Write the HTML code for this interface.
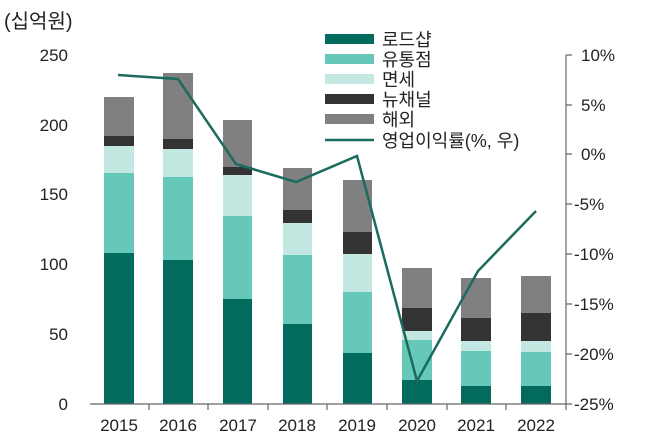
<!DOCTYPE html><html><head><meta charset="utf-8"><style>body{margin:0;background:#fff}svg text{font-family:"Liberation Sans","Noto Sans CJK KR",sans-serif;fill:#222}</style></head><body>
<svg width="663" height="442" xmlns="http://www.w3.org/2000/svg">
<text x="4" y="28" font-size="20">(십억원)</text>
<g font-size="17" text-anchor="end">
<text x="68" y="61">250</text><text x="68" y="131">200</text><text x="68" y="200">150</text><text x="68" y="270">100</text><text x="68" y="340">50</text><text x="68" y="410">0</text></g>
<g font-size="17">
<text x="581" y="61">10%</text><text x="581" y="111">5%</text><text x="581" y="160">0%</text><text x="574" y="210">-5%</text><text x="574" y="260">-10%</text><text x="574" y="310">-15%</text><text x="574" y="360">-20%</text><text x="574" y="410">-25%</text></g>
<g font-size="17" text-anchor="middle">
<text x="119" y="431">2015</text><text x="178" y="431">2016</text><text x="238" y="431">2017</text><text x="297" y="431">2018</text><text x="357" y="431">2019</text><text x="417" y="431">2020</text><text x="476" y="431">2021</text><text x="536" y="431">2022</text></g>
<g>
<rect x="104" y="97" width="30" height="39" fill="#808080"/><rect x="104" y="136" width="30" height="10" fill="#333"/><rect x="104" y="146" width="30" height="27" fill="#c2e8e1"/><rect x="104" y="173" width="30" height="80" fill="#66c8b8"/><rect x="104" y="253" width="30" height="151" fill="#036b5e"/>
<rect x="163" y="73" width="30" height="66" fill="#808080"/><rect x="163" y="139" width="30" height="10" fill="#333"/><rect x="163" y="149" width="30" height="28" fill="#c2e8e1"/><rect x="163" y="177" width="30" height="83" fill="#66c8b8"/><rect x="163" y="260" width="30" height="144" fill="#036b5e"/>
<rect x="223" y="120" width="29" height="47" fill="#808080"/><rect x="223" y="167" width="29" height="8" fill="#333"/><rect x="223" y="175" width="29" height="41" fill="#c2e8e1"/><rect x="223" y="216" width="29" height="83" fill="#66c8b8"/><rect x="223" y="299" width="29" height="105" fill="#036b5e"/>
<rect x="283" y="168" width="29" height="42" fill="#808080"/><rect x="283" y="210" width="29" height="13" fill="#333"/><rect x="283" y="223" width="29" height="32" fill="#c2e8e1"/><rect x="283" y="255" width="29" height="69" fill="#66c8b8"/><rect x="283" y="324" width="29" height="80" fill="#036b5e"/>
<rect x="343" y="180" width="29" height="52" fill="#808080"/><rect x="343" y="232" width="29" height="22" fill="#333"/><rect x="343" y="254" width="29" height="38" fill="#c2e8e1"/><rect x="343" y="292" width="29" height="61" fill="#66c8b8"/><rect x="343" y="353" width="29" height="51" fill="#036b5e"/>
<rect x="402" y="268" width="30" height="40" fill="#808080"/><rect x="402" y="308" width="30" height="23" fill="#333"/><rect x="402" y="331" width="30" height="9" fill="#c2e8e1"/><rect x="402" y="340" width="30" height="40" fill="#66c8b8"/><rect x="402" y="380" width="30" height="24" fill="#036b5e"/>
<rect x="461" y="278" width="30" height="40" fill="#808080"/><rect x="461" y="318" width="30" height="23" fill="#333"/><rect x="461" y="341" width="30" height="10" fill="#c2e8e1"/><rect x="461" y="351" width="30" height="35" fill="#66c8b8"/><rect x="461" y="386" width="30" height="18" fill="#036b5e"/>
<rect x="521" y="276" width="30" height="37" fill="#808080"/><rect x="521" y="313" width="30" height="28" fill="#333"/><rect x="521" y="341" width="30" height="11" fill="#c2e8e1"/><rect x="521" y="352" width="30" height="34" fill="#66c8b8"/><rect x="521" y="386" width="30" height="18" fill="#036b5e"/>
</g>
<g stroke="#666" stroke-width="1.2" fill="none">
<path d="M90 404H566V55"/>
<path d="M149 404v6M208 404v6M268 404v6M327 404v6M387 404v6M447 404v6M506 404v6M566 404v6"/>
<path d="M566 55h6M566 105h6M566 154h6M566 204h6M566 254h6M566 304h6M566 354h6M566 404h6"/>
</g>
<polyline points="118,75 178,79 236,164 296,182 357,156 417,381 478,271 536,211" fill="none" stroke="#1b6b5f" stroke-width="2.5"/>
<rect x="325" y="34" width="49" height="10" fill="#036b5e"/><rect x="325" y="54" width="49" height="10" fill="#66c8b8"/><rect x="325" y="74" width="49" height="10" fill="#c2e8e1"/><rect x="325" y="94" width="49" height="10" fill="#333"/><rect x="325" y="114" width="49" height="10" fill="#808080"/><path d="M325 140H374" stroke="#1b6b5f" stroke-width="2.5"/>
<g font-size="18"><text x="382" y="46">로드샵</text><text x="382" y="66">유통점</text><text x="382" y="86">면세</text><text x="382" y="106">뉴채널</text><text x="382" y="126">해외</text><text x="382" y="147">영업이익률(%, 우)</text></g>
</svg></body></html>
